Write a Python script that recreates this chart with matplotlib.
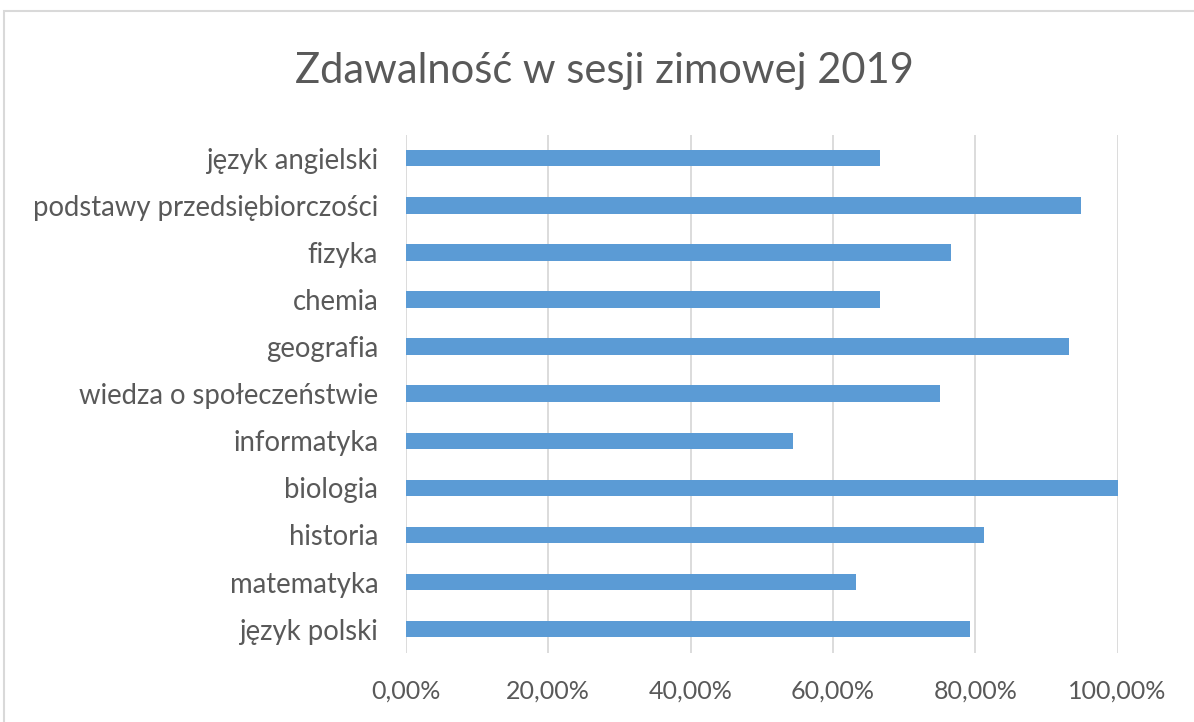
import matplotlib
matplotlib.use("Agg")
import matplotlib.pyplot as plt
from matplotlib.patches import Rectangle
from matplotlib.ticker import FuncFormatter

categories = ["język polski", "matematyka", "historia", "biologia", "informatyka",
              "wiedza o społeczeństwie", "geografia", "chemia", "fizyka",
              "podstawy przedsiębiorczości", "język angielski"]
values = [0.793, 0.632, 0.813, 1.0, 0.544, 0.75, 0.932, 0.6667, 0.766, 0.948, 0.6667]
xticks = [0.0, 0.2, 0.4, 0.6, 0.8, 1.0]
title = "Zdawalność w sesji zimowej 2019"

W, H = 1194, 722
plt.rcParams['font.family'] = ['Lato', 'DejaVu Sans']
fig = plt.figure(figsize=(W / 100, H / 100), dpi=100)
fig.patch.set_facecolor("white")

# chart border
fig.patches.append(Rectangle((4 / W, -0.05), 1.2, (H - 11) / H + 0.05, transform=fig.transFigure,
                             fill=False, edgecolor="#D9D9D9", linewidth=1.5))

ax = fig.add_axes([406 / W, 69.3 / H, (1117.5 - 406) / W, 518 / H])
ax.barh(range(len(categories)), values, height=0.35, color="#5B9BD5", zorder=3)
ax.set_ylim(-0.5, len(categories) - 0.5)
ax.set_xlim(0, 1.0)
ax.set_xticks(xticks)
ax.xaxis.set_major_formatter(FuncFormatter(lambda v, p: f"{v*100:.2f}%".replace(".", ",")))
ax.set_yticks(range(len(categories)))
ax.set_yticklabels(categories)
ax.grid(axis="x", color="#D9D9D9", linewidth=1.3, zorder=0)
for s in ax.spines.values():
    s.set_visible(False)
ax.tick_params(axis="y", length=0, labelcolor="#595959", labelsize=19.8, pad=20)
ax.tick_params(axis="x", length=0, labelcolor="#595959", labelsize=18, pad=19)

fig.text(604 / W, 1 - 82.5 / H, title, ha="center", va="baseline", fontsize=30, color="#595959")

fig.savefig("out.png", dpi=100)
